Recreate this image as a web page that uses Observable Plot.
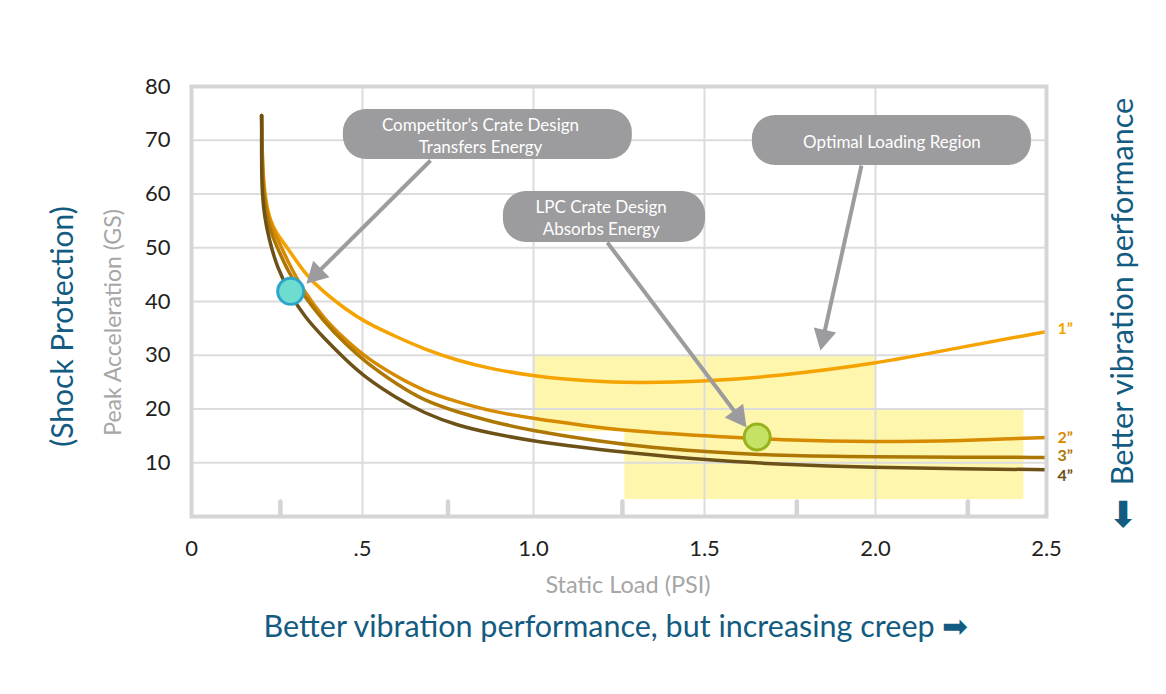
<!DOCTYPE html>
<html>
<head>
<meta charset="utf-8">
<script src="https://cdn.jsdelivr.net/npm/d3@7"></script>
<script src="https://cdn.jsdelivr.net/npm/@observablehq/plot@0.6"></script>
<style>
  body { margin: 0; background: #ffffff; }
  #chart svg { display: block; }
</style>
</head>
<body>
<div id="chart"></div>
<script>
// ---- data ----
const xTicks = [0, 0.5, 1.0, 1.5, 2.0, 2.5];
const xTickLabels = ["0", ".5", "1.0", "1.5", "2.0", "2.5"];
const yTicks = [10, 20, 30, 40, 50, 60, 70, 80];
const xGrid = [0.5, 1.0, 1.5, 2.0];
const yGrid = [10, 20, 30, 40, 50, 60, 70];
const minorTicks = [0.26, 0.75, 1.26, 1.77, 2.27];

const curve1 = [[0.205,74.6],[0.206,70],[0.209,64],[0.216,59],[0.23,55],[0.252,52.3],[0.281,50],[0.333,45],[0.387,41.7],[0.45,38.6],[0.509,36.1],[0.6,33.4],[0.678,31.2],[0.778,29.0],[0.874,27.5],[1.0,26.1],[1.15,25.2],[1.3,24.8],[1.503,25.1],[1.722,26.2],[2.0,28.4],[2.25,31.5],[2.5,34.4]];
const curve2 = [[0.205,74.6],[0.206,70],[0.208,64],[0.214,59],[0.226,55.5],[0.243,52.8],[0.263,50],[0.295,45.8],[0.328,42.0],[0.387,36.8],[0.45,32.9],[0.509,29.6],[0.6,26.0],[0.678,23.4],[0.778,21.3],[0.874,19.6],[1.0,18.2],[1.15,16.9],[1.284,15.9],[1.503,15.0],[1.722,14.2],[2.0,13.85],[2.25,14.1],[2.5,14.7]];
const curve3 = [[0.205,74.6],[0.206,70],[0.207,64],[0.212,59],[0.222,55.2],[0.235,52.4],[0.251,50],[0.283,45.5],[0.318,42],[0.387,36.2],[0.45,32.1],[0.509,28.7],[0.6,24.6],[0.678,21.6],[0.778,19.4],[0.874,17.7],[1.0,15.9],[1.15,14.4],[1.284,13.2],[1.503,12.0],[1.722,11.3],[2.0,11.1],[2.25,11.0],[2.5,11.0]];
const curve4 = [[0.205,74.6],[0.205,70],[0.205,64],[0.207,60],[0.213,56],[0.225,52],[0.25,46.3],[0.29,41.2],[0.33,37.2],[0.387,33.2],[0.45,29.2],[0.509,25.8],[0.6,22.0],[0.678,19.3],[0.778,16.9],[0.874,15.5],[1.0,14.0],[1.15,12.8],[1.284,11.8],[1.503,10.5],[1.722,9.7],[2.0,9.1],[2.25,8.9],[2.5,8.7]];

const seriesNames = ["1\u201D", "2\u201D", "3\u201D", "4\u201D"];
const seriesColors = ["#f5a300", "#d68a00", "#ad7704", "#6c5119"];
const seriesLabelY = [35.0, 14.7, 11.2, 7.6];

const zoneX1 = [1.0, 1.267];
const zoneX2 = [2.0, 2.434];
const zoneY1 = [15.8, 3.16];
const zoneY2 = [30, 20];

const boxText = ["Competitor\u2019s Crate Design\nTransfers Energy", "Optimal Loading Region", "LPC Crate Design\nAbsorbs Energy"];
const boxX1 = [0.444, 1.640, 0.912];
const boxX2 = [1.289, 2.456, 1.503];
const boxY1 = [66.42, 65.30, 50.98];
const boxY2 = [75.72, 74.60, 60.47];
const boxTextX = [0.845, 2.048, 1.198];

const arrowX1 = [0.699, 1.959, 1.216];
const arrowY1 = [66.23, 65.30, 50.98];
const arrowX2 = [0.336, 1.839, 1.623];
const arrowY2 = [43.3, 30.88, 16.56];

const dotX = [0.290, 1.654];
const dotY = [41.9, 14.8];
const dotFill = ["#6fdcd0", "#c6e264"];
const dotStroke = ["#2ea6c9", "#97b21c"];

// ---- derived tables ----
const curves = [curve1, curve2, curve3, curve4];
const zones = zoneX1.map((x1, i) => ({x1, x2: zoneX2[i], y1: zoneY1[i], y2: zoneY2[i]}));
const boxes = boxText.map((t, i) => ({t, x1: boxX1[i], x2: boxX2[i], y1: boxY1[i], y2: boxY2[i],
  cx: boxTextX[i], cy: (boxY1[i] + boxY2[i]) / 2}));
const dots = dotX.map((x, i) => ({x, y: dotY[i], fill: dotFill[i], stroke: dotStroke[i]}));

const W = 1166, H = 694, mt = 86, mb = 178, ml = 191, mr = 120;
const sx = d3.scaleLinear([0, 2.5], [ml, W - mr]);
const sy = d3.scaleLinear([0, 80], [H - mb, mt]);
const headLen = 21, headHalf = 11.5;
const shafts = [], heads = [];
arrowX1.forEach((x1, i) => {
  const p0 = [sx(x1), sy(arrowY1[i])], p1 = [sx(arrowX2[i]), sy(arrowY2[i])];
  const L = Math.hypot(p1[0] - p0[0], p1[1] - p0[1]);
  const ux = (p1[0] - p0[0]) / L, uy = (p1[1] - p0[1]) / L;
  const b = [p1[0] - ux * headLen, p1[1] - uy * headLen];
  shafts.push({x1, y1: arrowY1[i], x2: sx.invert(b[0] + ux * 2), y2: sy.invert(b[1] + uy * 2)});
  const pts = [p1, [b[0] - uy * headHalf, b[1] + ux * headHalf], [b[0] + uy * headHalf, b[1] - ux * headHalf]];
  pts.forEach(p => heads.push({k: i, x: sx.invert(p[0]), y: sy.invert(p[1])}));
});

const teal = "#135b80";
const gray = "#9c9b9d";
const mid = {textAnchor: "middle", lineAnchor: "middle"};

const marks = [
  Plot.rect(zones, {x1: "x1", x2: "x2", y1: "y1", y2: "y2", fill: "#fff6ad"}),
  Plot.ruleX(xGrid, {stroke: "#dcdcdc", strokeWidth: 2}),
  Plot.ruleY(yGrid, {stroke: "#dcdcdc", strokeWidth: 2}),
  Plot.ruleX(minorTicks, {y1: 0, y2: 2.7, stroke: "#d4d4d4", strokeWidth: 4.5, strokeLinecap: "round"}),
  ...curves.map((c, i) => Plot.line(c, {x: d => d[0], y: d => d[1], stroke: seriesColors[i], strokeWidth: 3.5, curve: "basis"})),
  Plot.frame({stroke: "#d5d5d5", strokeWidth: 4}),
  Plot.text(seriesNames, {x: 2.5, y: (d, i) => seriesLabelY[i], dx: 11, textAnchor: "start", lineAnchor: "middle", fill: (d, i) => seriesColors[i], fontWeight: "bold", fontSize: 16}),
  Plot.link(shafts, {x1: "x1", y1: "y1", x2: "x2", y2: "y2", stroke: gray, strokeWidth: 4}),
  Plot.line(heads, {x: "x", y: "y", z: "k", fill: gray, stroke: "none", curve: "linear-closed"}),
  Plot.dot(dots, {x: "x", y: "y", r: 13, fill: d => d.fill, stroke: d => d.stroke, strokeWidth: 3}),
  Plot.rect(boxes, {x1: "x1", x2: "x2", y1: "y1", y2: "y2", fill: gray, rx: 23}),
  Plot.text(boxes, {x: "cx", y: "cy", text: "t", fill: "#ffffff", fontSize: 17, lineHeight: 1.3, ...mid}),
  // tick labels
  Plot.text(yTicks, {y: d => d, frameAnchor: "left", dx: -21, textAnchor: "end", lineAnchor: "middle", fontSize: 22, fill: "#231f20"}),
  Plot.text(xTicks, {x: d => d, text: (d, i) => xTickLabels[i], frameAnchor: "bottom", dy: 32, fontSize: 22, fill: "#231f20", ...mid}),
  // axis titles
  Plot.text(["Static Load (PSI)"], {frameAnchor: "bottom", dx: 9, dy: 69, fontSize: 23.5, fill: "#a6a6a6", ...mid}),
  Plot.text(["Better vibration performance, but increasing creep \u27A1"], {frameAnchor: "bottom", dx: -3, dy: 111, fontSize: 30.5, fill: teal, ...mid}),
  Plot.text(["(Shock Protection)"], {frameAnchor: "left", dx: -128, dy: 25, rotate: -90, fontSize: 30, fill: teal, ...mid}),
  Plot.text(["Peak Acceleration (GS)"], {frameAnchor: "left", dx: -78, dy: 21, rotate: -90, fontSize: 23, fill: "#a6a6a6", ...mid}),
  Plot.text(["Better vibration performance"], {frameAnchor: "right", dx: 77, dy: -10, rotate: -90, fontSize: 30.5, fill: teal, ...mid}),
  Plot.text(["\u2B07"], {frameAnchor: "bottom-right", dx: 76, dy: -1, fontSize: 36, fill: teal, ...mid})
];

const chart = Plot.plot({
  width: W, height: H,
  marginTop: mt, marginBottom: mb, marginLeft: ml, marginRight: mr,
  x: {domain: [0, 2.5], axis: null},
  y: {domain: [0, 80], axis: null},
  style: {fontFamily: "Lato, 'Open Sans', sans-serif", background: "#ffffff", overflow: "visible"},
  marks
});
document.getElementById("chart").append(chart);
</script>
</body>
</html>
